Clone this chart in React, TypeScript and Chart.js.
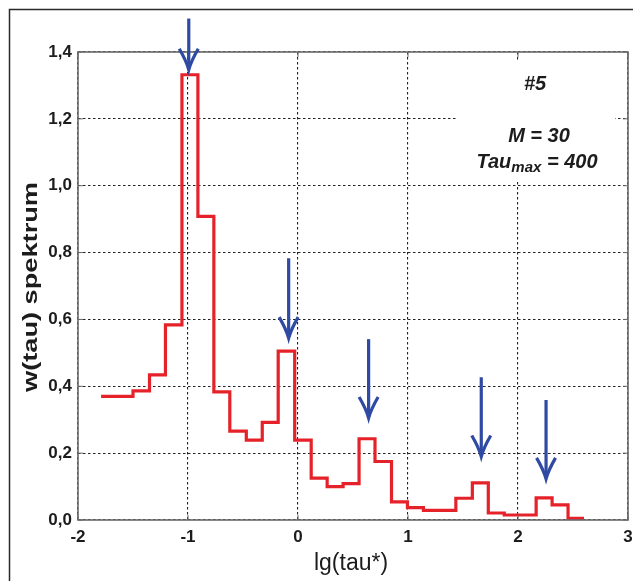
import React, { useEffect, useRef } from "react";
import { Chart, registerables } from "chart.js";

Chart.register(...registerables);

// ---- data ----
const binEdges = [
  -1.79, -1.645, -1.5, -1.35, -1.205, -1.055, -0.91, -0.765, -0.62, -0.47,
  -0.325, -0.18, -0.03, 0.12, 0.265, 0.41, 0.555, 0.7, 0.85, 0.995,
  1.14, 1.29, 1.435, 1.585, 1.73, 1.875, 2.02, 2.165, 2.31, 2.455, 2.6,
];
const spectrumValues = [
  0.37, 0.37, 0.386, 0.434, 0.584, 1.332, 0.908, 0.383, 0.266, 0.239,
  0.292, 0.505, 0.239, 0.125, 0.1, 0.109, 0.243, 0.175, 0.054, 0.037,
  0.029, 0.029, 0.065, 0.111, 0.021, 0.015, 0.015, 0.066, 0.045, 0.005,
];
const xTicks = [-2, -1, 0, 1, 2, 3];
const yTicks = [0, 0.2, 0.4, 0.6, 0.8, 1.0, 1.2, 1.4];
const arrowX = [-0.993, -0.085, 0.642, 1.666, 2.255];
const arrowTop = [1.5, 0.783, 0.541, 0.427, 0.359];
const arrowTip = [1.347, 0.544, 0.305, 0.19, 0.123];
const xTitle = "lg(tau*)";
const yTitle = "w(tau) spektrum";
const noteId = "#5";
const noteM = "M = 30";
const noteTau = "Tau";
const noteTauSub = "max";
const noteTauVal = " = 400";

const FONT = '"Liberation Sans", Arial, Helvetica, sans-serif';
const RED = "#e5222a";
const BLUE = "#2f4aa2";
const TEXT = "#1c1c1c";

export default function App() {
  const ref = useRef<HTMLCanvasElement>(null);

  useEffect(() => {
    const canvas = ref.current!;
    const points = binEdges.map((x, i) => ({
      x,
      y: spectrumValues[Math.min(i, spectrumValues.length - 1)],
    }));

    const decor = {
      id: "decor",
      beforeDatasetsDraw(chart: any) {
        const ctx = chart.ctx;
        ctx.save();
        ctx.fillStyle = "#ffffff";
        ctx.fillRect(458, 60, 157, 121);
        ctx.restore();
      },
      afterDatasetsDraw(chart: any) {
        const ctx = chart.ctx;
        const { left, right, top, bottom } = chart.chartArea;
        const xs = chart.scales.x;
        const ys = chart.scales.y;
        ctx.save();
        // axes box
        ctx.strokeStyle = "#6a6a6a";
        ctx.lineWidth = 1.6;
        ctx.strokeRect(left, top, right - left, bottom - top);
        // inside ticks
        ctx.lineWidth = 1;
        ctx.beginPath();
        xTicks.forEach((v) => {
          const px = xs.getPixelForValue(v);
          ctx.moveTo(px, bottom);
          ctx.lineTo(px, bottom - 5);
          ctx.moveTo(px, top);
          ctx.lineTo(px, top + 5);
        });
        yTicks.forEach((v) => {
          const py = ys.getPixelForValue(v);
          ctx.moveTo(left, py);
          ctx.lineTo(left + 5, py);
          ctx.moveTo(right, py);
          ctx.lineTo(right - 5, py);
        });
        ctx.stroke();
        // arrows
        ctx.strokeStyle = BLUE;
        ctx.lineWidth = 3.2;
        ctx.lineCap = "butt";
        ctx.lineJoin = "miter";
        arrowX.forEach((ax, i) => {
          const px = xs.getPixelForValue(ax);
          const py0 = ys.getPixelForValue(arrowTop[i]);
          const py1 = ys.getPixelForValue(arrowTip[i]);
          ctx.beginPath();
          ctx.moveTo(px, py0);
          ctx.lineTo(px, py1 - 3);
          ctx.stroke();
          ctx.beginPath();
          ctx.moveTo(px - 9.5, py1 - 21);
          ctx.quadraticCurveTo(px - 2.5, py1 - 9, px, py1);
          ctx.quadraticCurveTo(px + 2.5, py1 - 9, px + 9.5, py1 - 21);
          ctx.stroke();
        });
        ctx.restore();
      },
      afterDraw(chart: any) {
        const ctx = chart.ctx;
        ctx.save();
        // outer frame
        ctx.strokeStyle = "#2a2a2a";
        ctx.lineWidth = 1.5;
        ctx.beginPath();
        ctx.moveTo(9.5, 581);
        ctx.lineTo(9.5, 9.5);
        ctx.lineTo(633, 9.5);
        ctx.stroke();

        ctx.fillStyle = TEXT;
        // y title (rotated, stretched along the text)
        ctx.font = `bold 21px ${FONT}`;
        const yw = ctx.measureText(yTitle).width;
        ctx.save();
        ctx.translate(31, 287);
        ctx.rotate(-Math.PI / 2);
        ctx.scale(210 / yw, 1);
        ctx.textAlign = "center";
        ctx.textBaseline = "middle";
        ctx.fillText(yTitle, 0, 0);
        ctx.restore();

        // x title
        ctx.font = `23px ${FONT}`;
        ctx.textAlign = "center";
        ctx.textBaseline = "alphabetic";
        ctx.fillText(xTitle, 351, 570);

        // annotation
        ctx.font = `italic bold 20px ${FONT}`;
        ctx.fillText(noteId, 535, 90);
        ctx.fillText(noteM, 539, 142);
        const mainFont = `italic bold 20px ${FONT}`;
        const subFont = `italic bold 15px ${FONT}`;
        ctx.font = mainFont;
        const w1 = ctx.measureText(noteTau).width;
        const w3 = ctx.measureText(noteTauVal).width;
        ctx.font = subFont;
        const w2 = ctx.measureText(noteTauSub).width;
        const start = 537 - (w1 + w2 + w3) / 2;
        ctx.textAlign = "left";
        ctx.font = mainFont;
        ctx.fillText(noteTau, start, 168);
        ctx.font = subFont;
        ctx.fillText(noteTauSub, start + w1, 172);
        ctx.font = mainFont;
        ctx.fillText(noteTauVal, start + w1 + w2, 168);
        ctx.restore();
      },
    };

    const tickFont = { family: FONT, size: 17, weight: "bold" as const };

    const chart = new Chart(canvas, {
      type: "line",
      data: {
        datasets: [
          {
            data: points,
            borderColor: RED,
            borderWidth: 3.2,
            stepped: "before",
            pointRadius: 0,
            fill: false,
            borderJoinStyle: "miter",
            borderCapStyle: "butt",
            tension: 0,
          },
        ],
      },
      options: {
        responsive: false,
        animation: false,
        events: [],
        layout: { padding: { left: 0, right: 5, top: 52, bottom: 0 } },
        plugins: {
          legend: { display: false },
          tooltip: { enabled: false },
        },
        scales: {
          x: {
            type: "linear",
            min: -2,
            max: 3,
            afterBuildTicks: (s: any) => {
              s.ticks = xTicks.map((v) => ({ value: v }));
            },
            afterFit: (s: any) => {
              s.height = 61;
              s.paddingLeft = 0;
              s.paddingRight = 0;
            },
            ticks: {
              font: tickFont,
              color: TEXT,
              padding: 7,
              maxRotation: 0,
              autoSkip: false,
              callback: (v: any) => String(v),
            },
            grid: { color: "#222222", lineWidth: 1.1, drawTicks: false },
            border: { display: false, dash: [2.5, 2.5] },
          },
          y: {
            type: "linear",
            min: 0,
            max: 1.4,
            afterBuildTicks: (s: any) => {
              s.ticks = yTicks.map((v) => ({ value: v }));
            },
            afterFit: (s: any) => {
              s.width = 78;
              s.paddingTop = 0;
              s.paddingBottom = 0;
            },
            ticks: {
              font: tickFont,
              color: TEXT,
              padding: 6,
              autoSkip: false,
              callback: (v: any) => Number(v).toFixed(1).replace(".", ","),
            },
            grid: { color: "#222222", lineWidth: 1.1, drawTicks: false },
            border: { display: false, dash: [2.5, 2.5] },
          },
        },
      },
      plugins: [decor],
    } as any);

    return () => chart.destroy();
  }, []);

  return (
    <div
      style={{
        position: "fixed",
        left: 0,
        top: 0,
        width: 633,
        height: 581,
        background: "#ffffff",
      }}
    >
      <canvas
        ref={ref}
        width={633}
        height={581}
        style={{ display: "block", width: 633, height: 581 }}
      />
    </div>
  );
}
